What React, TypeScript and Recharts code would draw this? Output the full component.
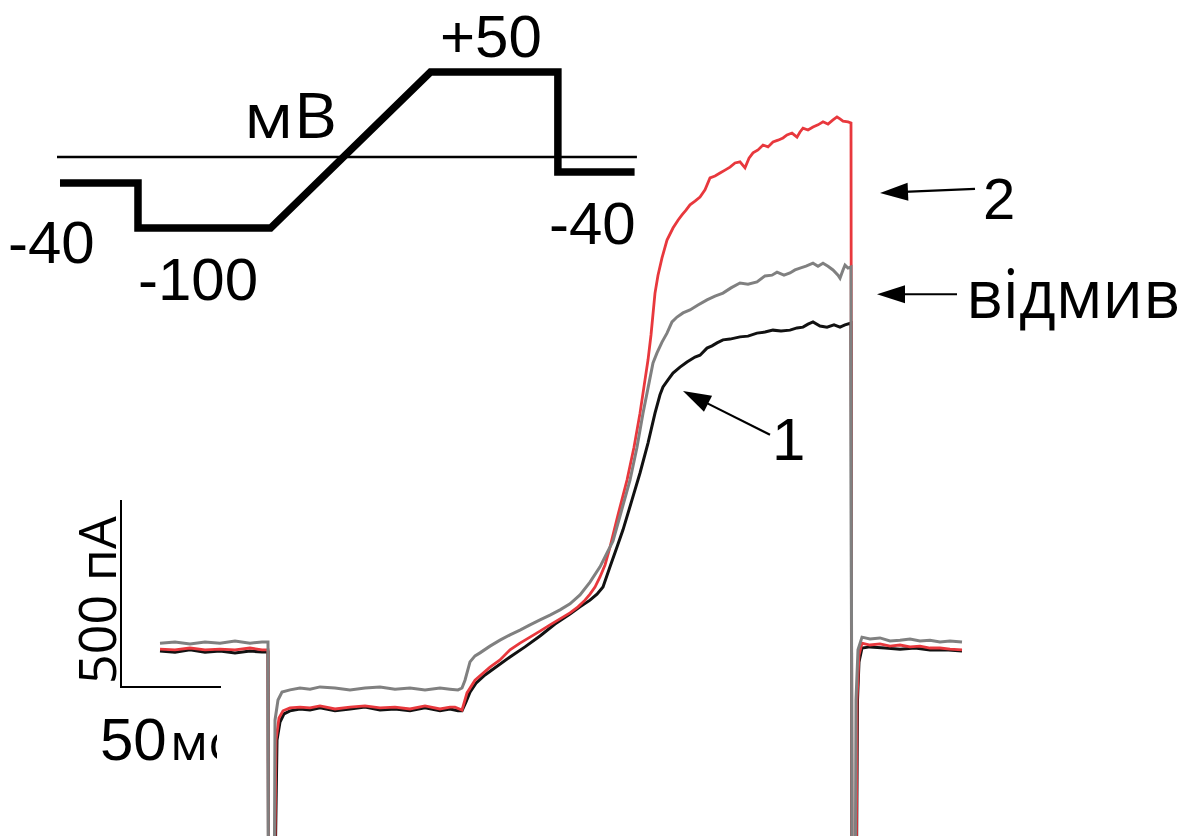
import { LineChart, Line, XAxis, YAxis, ReferenceLine } from 'recharts';

const W = 1195;
const H = 836;

// whole-cell currents, [time ms, current pA]; -800 = capacitive transient running off the panel
const traceControl: [number, number][] = [
  [0, -8], [7.5, -11], [15, -5], [22.5, -11], [30, -8], [37.5, -13], [45, -8], [51, -11], [54, -11],
  [54.3, -800], [57, -800], [58.5, -246], [60, -198], [62, -176], [65, -168], [70, -163], [75, -166],
  [80, -160], [87.5, -168], [95, -163], [102.5, -158], [110, -166], [117.5, -163], [125, -168],
  [132.5, -160], [140, -168], [145, -163], [149, -168], [151, -168], [153, -144], [155, -118],
  [158, -94], [162.5, -72], [167.5, -53], [175, -24], [182.5, 3], [190, 32], [197.5, 64], [205, 91],
  [210, 110], [215, 128], [218.5, 144], [221.5, 163], [225, 217], [228.5, 270], [231.5, 316],
  [236, 396], [240, 468], [244, 548], [247.5, 628], [250, 677], [251.5, 698], [254, 717],
  [256.5, 735], [260, 751], [263.5, 765], [267.5, 778], [270, 783], [273.5, 802], [276, 808],
  [278.5, 816], [281.5, 824], [285, 826], [290, 832], [294, 834], [298.5, 842], [302.5, 845],
  [306.5, 850], [310.5, 848], [315, 850], [318.5, 856], [321.5, 858], [324, 866], [326.5, 872],
  [330, 861], [333.5, 858], [337, 864], [340, 858], [342.5, 864], [345.5, 869],
  [346, -800], [348, -800], [348.75, -139], [349.5, -37], [351, 0], [355, 3], [362.5, 0], [370, -3],
  [377.5, 0], [385, -5], [392.5, -5], [401, -8],
];

const traceWashout: [number, number][] = [
  [0, 13], [7.5, 16], [15, 11], [22.5, 16], [30, 13], [37.5, 19], [45, 13], [51, 16], [54, 16],
  [54.3, -800], [57, -800], [57.5, -193], [59, -139], [61, -118], [65, -112], [70, -107], [75, -110],
  [80, -104], [87.5, -107], [95, -112], [102.5, -107], [110, -104], [117.5, -110], [125, -107],
  [132.5, -112], [140, -107], [145, -110], [149, -112], [151, -107], [152.5, -86], [155, -37],
  [157.5, -21], [160, -13], [165, 5], [170, 21], [175, 35], [180, 48], [185, 62], [190, 75], [195, 88],
  [200, 102], [205, 118], [210, 142], [215, 176], [220, 217], [223.5, 254], [226.5, 286], [230, 353],
  [235, 449], [238.5, 537], [241.5, 628], [244, 695], [246.5, 762], [248.5, 789], [251, 818],
  [253.5, 842], [256, 872], [258.5, 885], [261.5, 896], [265, 904], [269, 917], [273.5, 931],
  [277.5, 941], [281.5, 949], [285.5, 963], [290, 976], [294, 973], [298.5, 979], [302.5, 995],
  [306, 997], [308.5, 1005], [312, 997], [315, 1003], [317.5, 1011], [320, 1016], [323, 1021],
  [326.5, 1029], [329, 1021], [331.5, 1029], [334, 1021], [336.5, 1011], [339, 997], [340, 989],
  [341.5, 1011], [342.5, 1024], [344, 1016], [345.5, 1019],
  [346, -800], [347.5, -800], [348, -139], [349, -5], [351, 29], [355, 24], [360, 27], [365, 19],
  [370, 21], [375, 24], [380, 19], [385, 21], [390, 16], [395, 19], [401, 16],
];

const traceDrug: [number, number][] = [
  [0, -3], [7.5, -5], [15, 0], [22.5, -5], [30, -3], [37.5, -5], [45, 0], [51, -5], [54, -5],
  [54.3, -800], [57, -800], [58, -246], [59.5, -187], [61.5, -168], [65, -160], [70, -158], [75, -160],
  [80, -155], [87.5, -163], [95, -158], [102.5, -155], [110, -160], [117.5, -158], [125, -163],
  [132.5, -155], [140, -163], [145, -158], [147.5, -158], [151, -166], [153.5, -120], [157.5, -86],
  [165, -51], [170, -32], [175, -5], [180, 13], [185, 29], [190, 45], [195, 62], [200, 78], [205, 94],
  [209, 110], [212.5, 128], [215, 144], [217.5, 163], [220, 190], [222.5, 222], [225, 270], [229, 356],
  [233.5, 449], [237, 537], [240, 628], [242.5, 717], [244, 770], [245.5, 837], [247.5, 949],
  [249, 997], [251, 1043], [253.5, 1091], [256.5, 1123], [259, 1144], [261, 1158], [263, 1171],
  [265, 1185], [267.5, 1195], [270, 1206], [272.5, 1225], [275, 1257], [277.5, 1262], [280, 1270],
  [282.5, 1278], [285, 1286], [287.5, 1297], [290, 1300], [292.5, 1284], [294.5, 1310], [296.5, 1324],
  [299, 1332], [301.5, 1345], [304, 1340], [306.5, 1353], [309, 1358], [311.5, 1364], [313.5, 1372],
  [316, 1377], [318.5, 1366], [320, 1380], [321.5, 1390], [324, 1385], [326.5, 1393], [329, 1399],
  [331.5, 1407], [334, 1401], [336.5, 1412], [338.5, 1420], [340, 1415], [341.5, 1409], [344, 1407],
  [345.5, 1404],
  [346, -800], [348, -800], [348.5, -139], [349.5, -19], [351, 13], [355, 8], [360, 11], [365, 5],
  [370, 8], [375, 3], [380, 5], [385, 0], [390, 0], [395, -3], [401, -5],
];

// scale bar: 50 ms x 500 pA
const scaleBar: [number, number][] = [[-19.5, 396], [-19.5, -104], [30.5, -104]];

// annotation arrows, tail -> tip, in ms / pA
const arrowTails: [number, number][] = [[407.5, 1228], [398.5, 946], [305, 570]];
const arrowTips: [number, number][] = [[360, 1217], [358.5, 946], [261.5, 687]];

// voltage protocol inset (schematic, not to scale)
const protocolTime = [0, 60, 60, 162, 285, 383, 383, 442];
const protocolLevel = [-15.3, -15.3, -41.8, -41.8, 50, 50, -8.8, -8.8];
const zeroLineTime = [-2.3, 443.8];

const toRows = (pts: [number, number][]) => pts.map(([t, i]) => ({ t, i }));

const Arrow = (p: any) => {
  const { x1, y1, x2, y2 } = p;
  const a = Math.atan2(y2 - y1, x2 - x1);
  const len = 28;
  const half = 9;
  const bx = x2 - len * Math.cos(a);
  const by = y2 - len * Math.sin(a);
  const nx = -Math.sin(a) * half;
  const ny = Math.cos(a) * half;
  return (
    <g>
      <line x1={x1} y1={y1} x2={bx + 4 * Math.cos(a)} y2={by + 4 * Math.sin(a)} stroke="#000" strokeWidth={2.2} />
      <polygon points={`${x2},${y2} ${bx + nx},${by + ny} ${bx - nx},${by - ny}`} fill="#000" />
    </g>
  );
};

const numFont = '"Liberation Sans", Arial, sans-serif';
const cyrFont = '"Open Sans", "Noto Sans", sans-serif';

export default function App() {
  const protocol = protocolTime.map((t, k) => ({ t, v: protocolLevel[k] }));
  const zeroLine = zeroLineTime.map((t) => ({ t, v: 0 }));
  return (
    <div style={{ position: 'absolute', left: 0, top: 0, width: W, height: H, background: '#fff', overflow: 'hidden' }}>
      <div style={{ position: 'absolute', left: 0, top: 0 }}>
        <LineChart width={W} height={H} margin={{ top: 0, right: 0, bottom: 0, left: 0 }}>
          <XAxis hide type="number" dataKey="t" domain={[-80, 517.5]} allowDataOverflow />
          <YAxis hide type="number" domain={[-502.7, 1732.8]} allowDataOverflow />
          <Line data={toRows(scaleBar)} dataKey="i" stroke="#000" strokeWidth={2} dot={false} isAnimationActive={false} strokeLinejoin="miter" />
          <Line data={toRows(traceControl)} dataKey="i" stroke="#111" strokeWidth={3} dot={false} isAnimationActive={false} />
          <Line data={toRows(traceDrug)} dataKey="i" stroke="#e8383d" strokeWidth={2.8} dot={false} isAnimationActive={false} />
          <Line data={toRows(traceWashout)} dataKey="i" stroke="#808080" strokeWidth={3} dot={false} isAnimationActive={false} />
          {arrowTails.map((tail, k) => (
            <ReferenceLine
              key={k}
              segment={[{ x: tail[0], y: tail[1] }, { x: arrowTips[k][0], y: arrowTips[k][1] }]}
              shape={Arrow}
              ifOverflow="visible"
            />
          ))}
        </LineChart>
      </div>
      <div style={{ position: 'absolute', left: 0, top: 0 }}>
        <LineChart width={W} height={H} margin={{ top: 0, right: 0, bottom: 0, left: 0 }}>
          <XAxis hide type="number" dataKey="t" domain={[-46.15, 873.1]} allowDataOverflow />
          <YAxis hide type="number" domain={[-399.4, 92.35]} allowDataOverflow />
          <Line data={zeroLine} dataKey="v" stroke="#000" strokeWidth={2.4} dot={false} isAnimationActive={false} />
          <Line data={protocol} dataKey="v" stroke="#000" strokeWidth={7.5} dot={false} isAnimationActive={false} strokeLinejoin="miter" strokeLinecap="butt" />
        </LineChart>
      </div>
      <svg width={W} height={H} style={{ position: 'absolute', left: 0, top: 0 }}>
        <defs>
          <clipPath id="msClip">
            <rect x={0} y={0} width={217} height={H} />
          </clipPath>
        </defs>
        <g fill="#000">
          <text x={440} y={57} fontSize={60} fontFamily={numFont}>+50</text>
          <text x={244} y={138} fontSize={62} fontFamily={cyrFont} textLength={93} lengthAdjust="spacingAndGlyphs">мВ</text>
          <text x={8} y={263} fontSize={60} fontFamily={numFont}>-40</text>
          <text x={138} y={300} fontSize={60} fontFamily={numFont}>-100</text>
          <text x={549} y={244} fontSize={60} fontFamily={numFont}>-40</text>
          <text x={983} y={219} fontSize={58} fontFamily={numFont}>2</text>
          <text x={966} y={318} fontSize={68} fontFamily={cyrFont} textLength={214} lengthAdjust="spacingAndGlyphs">відмив</text>
          <text x={772} y={460} fontSize={60} fontFamily={numFont}>1</text>
          <text x={116} y={600} fontSize={52} fontFamily={cyrFont} textAnchor="middle" transform="rotate(-90 116 600)">500 пА</text>
          <text x={100} y={760} fontSize={60} fontFamily={numFont}>50</text>
          <text x={170} y={760} fontSize={52} fontFamily={cyrFont} clipPath="url(#msClip)">мс</text>
        </g>
      </svg>
    </div>
  );
}
